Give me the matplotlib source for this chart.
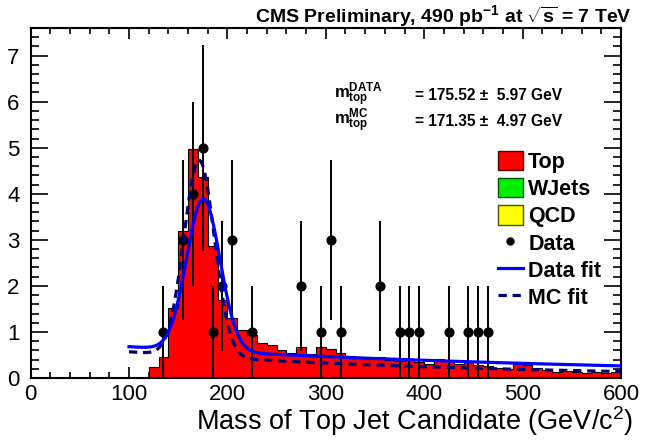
import numpy as np
import matplotlib
matplotlib.use("Agg")
import matplotlib.pyplot as plt
from matplotlib.patches import Patch
from matplotlib.lines import Line2D
from matplotlib.ticker import MultipleLocator

plt.rcParams['font.family'] = ['Liberation Sans', 'DejaVu Sans']
plt.rcParams['mathtext.fontset'] = 'custom'
plt.rcParams['mathtext.rm'] = 'Liberation Sans'
plt.rcParams['mathtext.bf'] = 'Liberation Sans:bold'
plt.rcParams['mathtext.it'] = 'Liberation Sans:italic'

# ---------------- data ----------------
bin_low = 120
bin_width = 10
top_values = [0.24, 0.46, 1.53, 3.20, 4.98, 4.36, 2.86, 1.70, 1.30, 1.05,
              0.93, 0.75, 0.72, 0.60, 0.55, 0.68, 0.52, 0.68, 0.62, 0.55,
              0.48, 0.45, 0.42, 0.45, 0.40, 0.38, 0.42, 0.35, 0.30, 0.42,
              0.38, 0.30, 0.35, 0.28, 0.25, 0.22, 0.20, 0.30, 0.28, 0.22,
              0.18, 0.12, 0.15, 0.12, 0.10, 0.12, 0.10, 0.12]

data_x = [135, 155, 165, 175, 185, 195, 205, 225, 275, 295,
          305, 315, 355, 375, 385, 395, 425, 445, 455, 465]
data_y = [1, 3, 4, 5, 1, 2, 3, 1, 2, 1,
          3, 1, 2, 1, 1, 1, 1, 1, 1, 1]

# fit parameters (gaussian + exponential background)
fit_range = [100, 600]
data_fit_params = [3.30, 175.52, 17.0, 0.68, 0.0019]   # amp, mean, sigma, bg norm @100, bg slope
mc_fit_params = [4.26, 171.35, 15.5, 0.57, 0.0028]

x_ticks = [0, 100, 200, 300, 400, 500, 600]
y_ticks = [0, 1, 2, 3, 4, 5, 6, 7]

# ---------------- figure ----------------
W, H = 652, 442
fig = plt.figure(figsize=(W / 100, H / 100), dpi=100)
ax = fig.add_axes([30.6 / W, 1 - 378 / H, (621 - 30.6) / W, (378 - 28) / H])

edges = bin_low + bin_width * np.arange(len(top_values) + 1)
ax.stairs(top_values, edges, fill=True, facecolor='#ff0000', edgecolor='black',
          linewidth=0.8, zorder=2)

dy = np.sqrt(np.array(data_y, dtype=float))
ax.errorbar(data_x, data_y, yerr=dy, fmt='o', color='black', markersize=6.3,
            elinewidth=1.4, capsize=0, zorder=3)


def fitcurve(p, x):
    a, m, s, b0, k = p
    return a * np.exp(-0.5 * ((x - m) / s) ** 2) + b0 * np.exp(-k * (x - fit_range[0]))


xs = np.linspace(fit_range[0], fit_range[1], 600)
ax.plot(xs, fitcurve(mc_fit_params, xs), color='#000070', lw=2.3,
        dashes=(2.6, 1.8), zorder=4)
ax.plot(xs, fitcurve(data_fit_params, xs), color='#0000ff', lw=2.3, zorder=5)

ax.set_xlim(0, 600)
ax.set_ylim(0, 7.6)
ax.set_xticks(x_ticks)
ax.set_yticks(y_ticks)
ax.xaxis.set_minor_locator(MultipleLocator(20))
ax.yaxis.set_minor_locator(MultipleLocator(0.2))
ax.tick_params(axis='both', which='both', direction='in', top=True, right=True,
               labelsize=16, width=1.2)
ax.tick_params(axis='x', which='major', length=8, pad=4)
ax.tick_params(axis='x', which='minor', length=4)
ax.tick_params(axis='y', which='major', length=12, pad=8)
ax.tick_params(axis='y', which='minor', length=6)
for sp in ax.spines.values():
    sp.set_linewidth(1.5)

# texts
fig.text(632 / W, 1 - 3 / H,
         r'CMS Preliminary, 490 pb$^{\mathbf{-1}}$ at $\sqrt{\mathbf{s}}$ = 7 TeV',
         ha='right', va='top', fontsize=14, fontweight='bold')
fig.text(633 / W, 1 - 421 / H, r'Mass of Top Jet Candidate (GeV/c$^{2}$)',
         ha='right', va='center', fontsize=19.5)

fig.text(334 / W, 1 - 95 / H, r'$\mathbf{m}_{\mathbf{top}}^{\mathbf{DATA}}$',
         ha='left', va='center', fontsize=12)
fig.text(415 / W, 1 - 96 / H, u'= 175.52 \u00b1  5.97 GeV',
         ha='left', va='center', fontsize=11.2, fontweight='bold')
fig.text(334 / W, 1 - 121 / H, r'$\mathbf{m}_{\mathbf{top}}^{\mathbf{MC}}$',
         ha='left', va='center', fontsize=12)
fig.text(415 / W, 1 - 121 / H, u'= 171.35 \u00b1  4.97 GeV',
         ha='left', va='center', fontsize=11.2, fontweight='bold')

handles = [
    Patch(facecolor='#ff0000', edgecolor='#500000', linewidth=1),
    Patch(facecolor='#00ee00', edgecolor='#005000', linewidth=1),
    Patch(facecolor='#ffff00', edgecolor='#505000', linewidth=1),
    Line2D([], [], marker='o', color='black', linestyle='none', markersize=5),
    Line2D([], [], color='#0000ff', lw=2.3),
    Line2D([], [], color='#000070', lw=2.3, dashes=(2.6, 1.8)),
]
labels = ['Top', 'WJets', 'QCD', 'Data', 'Data fit', 'MC fit']
leg = fig.legend(handles, labels, loc='upper left',
                 bbox_to_anchor=(498 / W, 1 - 151 / H), frameon=False,
                 prop={'weight': 'bold', 'size': 15.5}, handlelength=1.15,
                 handleheight=1.0, handletextpad=0.25, labelspacing=0.24,
                 borderpad=0, borderaxespad=0)

fig.savefig('out.png', dpi=100)
